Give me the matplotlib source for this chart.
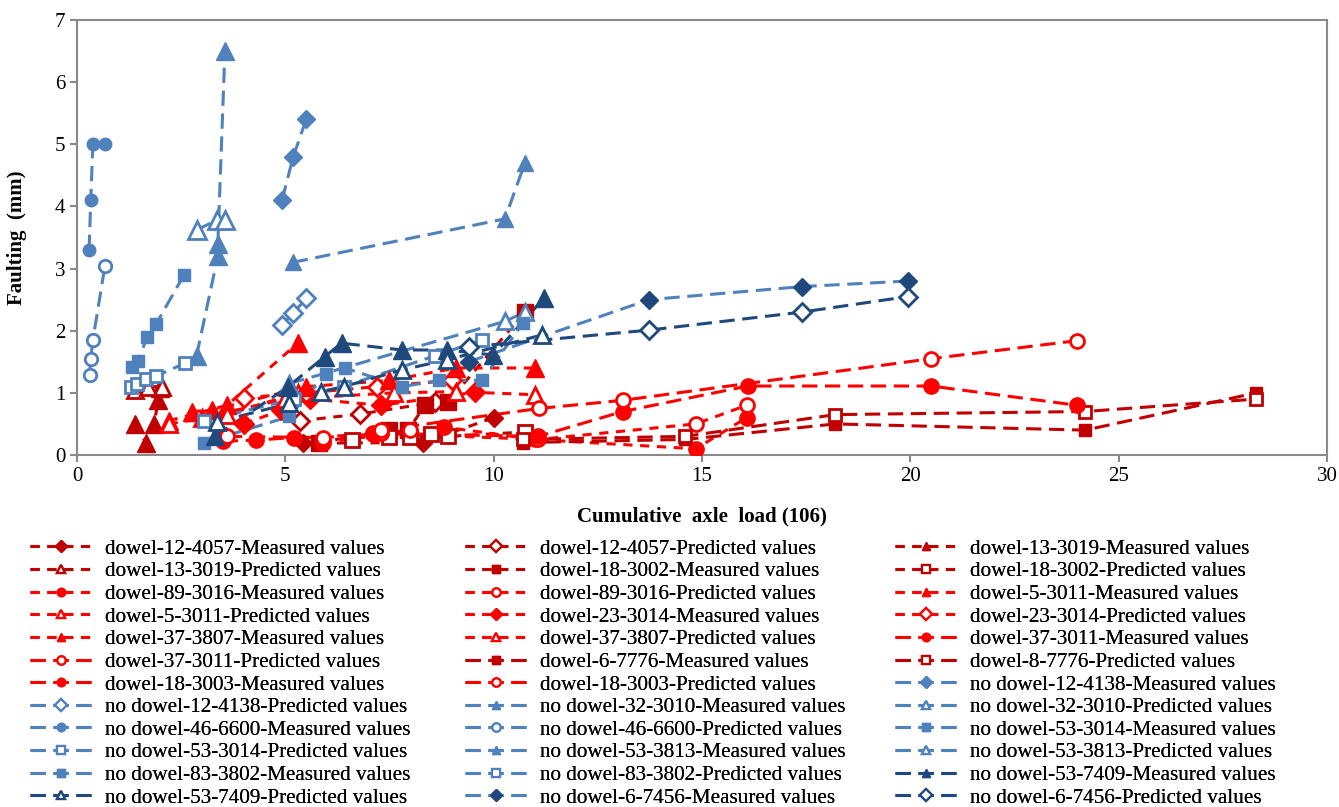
import matplotlib
matplotlib.use("Agg")
import matplotlib.pyplot as plt
from matplotlib.lines import Line2D

plt.rcParams['font.family'] = ['Liberation Serif', 'DejaVu Serif']

# ---- data ----
d12_4057_m_x = [5.43, 8.3, 10.0]
d12_4057_m_y = [0.19, 0.2, 0.6]
d12_4057_p_x = [5.35, 6.8, 8.6]
d12_4057_p_y = [0.55, 0.66, 0.85]
d13_3019_m_x = [1.4, 1.65, 1.85, 1.95, 1.98]
d13_3019_m_y = [0.5, 0.2, 0.5, 0.88, 1.08]
d13_3019_p_x = [1.4, 1.7, 2.05]
d13_3019_p_y = [1.05, 1.1, 1.1]
d18_3002_m_x = [5.8, 7.5, 7.95, 8.35, 8.9, 10.75]
d18_3002_m_y = [0.2, 0.4, 0.4, 0.8, 0.85, 2.3]
d18_3002_p_x = [6.6, 7.5, 8.0, 8.5, 8.9, 10.75]
d18_3002_p_y = [0.24, 0.29, 0.29, 0.34, 0.3, 0.37]
d89_3016_m_x = [5.9, 8.8, 11.0, 14.85, 16.07]
d89_3016_m_y = [0.2, 0.45, 0.25, 0.1, 0.6]
d89_3016_p_x = [7.3, 11.07, 14.85, 16.07]
d89_3016_p_y = [0.35, 0.25, 0.5, 0.8]
d5_3011_m_x = [2.2, 3.6, 5.3]
d5_3011_m_y = [0.55, 0.8, 1.8]
d5_3011_p_x = [2.2, 3.6, 5.3]
d5_3011_p_y = [0.5, 0.65, 1.0]
d23_3014_m_x = [4.0, 4.9, 5.6, 7.3, 9.55]
d23_3014_m_y = [0.5, 0.72, 0.9, 0.8, 1.01]
d23_3014_p_x = [4.0, 5.5, 7.2, 9.0]
d23_3014_p_y = [0.92, 1.0, 1.1, 1.2]
d37_3807_m_x = [2.76, 3.24, 5.5, 7.5, 9.1, 11.0]
d37_3807_m_y = [0.7, 0.72, 1.1, 1.2, 1.4, 1.4]
d37_3807_p_x = [3.0, 5.0, 7.6, 9.1, 11.0]
d37_3807_p_y = [0.6, 0.9, 1.0, 1.02, 0.97]
d37_3011_m_x = [3.5, 4.3, 5.2, 7.1]
d37_3011_m_y = [0.22, 0.24, 0.28, 0.33]
d37_3011_p_x = [3.6, 5.9, 7.3, 8.0]
d37_3011_p_y = [0.3, 0.28, 0.35, 0.4]
d6_7776_m_x = [10.7, 14.6, 18.2, 24.2, 28.3]
d6_7776_m_y = [0.2, 0.25, 0.5, 0.4, 1.0]
d8_7776_p_x = [10.7, 14.6, 18.2, 24.2, 28.3]
d8_7776_p_y = [0.25, 0.3, 0.65, 0.7, 0.9]
d18_3003_m_x = [7.1, 11.07, 13.1, 16.1, 20.5, 24.0]
d18_3003_m_y = [0.35, 0.3, 0.7, 1.11, 1.11, 0.8]
d18_3003_p_x = [7.3, 11.1, 13.1, 20.5, 24.0]
d18_3003_p_y = [0.4, 0.75, 0.88, 1.55, 1.84]
nd12_4138_m_x = [4.92, 5.19, 5.5]
nd12_4138_m_y = [4.1, 4.8, 5.4]
nd12_4138_p_x = [4.92, 5.19, 5.5]
nd12_4138_p_y = [2.1, 2.28, 2.52]
nd32_3010_m_x = [5.18, 10.27, 10.75]
nd32_3010_m_y = [3.1, 3.8, 4.7]
nd32_3010_p_x = [5.1, 10.27, 10.75]
nd32_3010_p_y = [1.15, 2.15, 2.3]
nd46_6600_m_x = [0.29, 0.33, 0.38, 0.67]
nd46_6600_m_y = [3.3, 4.1, 5.0, 5.0]
nd46_6600_p_x = [0.3, 0.33, 0.38, 0.67]
nd46_6600_p_y = [1.29, 1.55, 1.85, 3.04]
nd53_3014_m_x = [3.05, 5.1, 5.98, 6.43, 7.8, 8.7, 9.72, 10.7]
nd53_3014_m_y = [0.2, 0.62, 1.31, 1.4, 1.1, 1.2, 1.2, 2.12]
nd53_3014_p_x = [3.05, 5.2, 6.4, 8.6, 9.72]
nd53_3014_p_y = [0.55, 0.9, 1.1, 1.6, 1.85]
nd53_3813_m_x = [2.87, 3.38, 3.38, 3.55]
nd53_3813_m_y = [1.6, 3.2, 3.4, 6.5]
nd53_3813_p_x = [2.87, 3.35, 3.55]
nd53_3813_p_y = [3.62, 3.78, 3.78]
nd83_3802_m_x = [1.31, 1.47, 1.68, 1.9, 2.57]
nd83_3802_m_y = [1.42, 1.51, 1.9, 2.11, 2.9]
nd83_3802_p_x = [1.3, 1.45, 1.65, 1.9, 2.6]
nd83_3802_p_y = [1.1, 1.15, 1.22, 1.27, 1.48]
nd53_7409_m_x = [3.31, 5.07, 5.94, 6.35, 7.8, 8.87, 9.99, 11.2]
nd53_7409_m_y = [0.3, 1.1, 1.58, 1.8, 1.69, 1.69, 1.61, 2.52]
nd53_7409_p_x = [3.35, 5.1, 5.86, 6.4, 7.8, 8.87, 11.15]
nd53_7409_p_y = [0.53, 0.83, 1.02, 1.1, 1.37, 1.53, 1.93]
nd6_7456_m_x = [9.4, 13.73, 17.4, 19.95]
nd6_7456_m_y = [1.5, 2.5, 2.71, 2.8]
nd6_7456_p_x = [9.4, 13.73, 17.4, 19.95]
nd6_7456_p_y = [1.74, 2.01, 2.3, 2.55]

xticks = [0, 5, 10, 15, 20, 25, 30]
yticks = [0, 1, 2, 3, 4, 5, 6, 7]

# ---- styles ----
DR = '#C00000'
RD = '#FF0000'
LB = '#4F81BD'
DB = '#1F497D'
SHORT = (0, (3, 2.5))
LONG = (0, (5, 2.5))

# label, x, y, line colour, marker colour, marker, filled, dash, marker size
series = [
    ("dowel-12-4057-Measured values", d12_4057_m_x, d12_4057_m_y, DR, DR, 'D', True, SHORT, 9),
    ("dowel-12-4057-Predicted values", d12_4057_p_x, d12_4057_p_y, DR, DR, 'D', False, SHORT, 9),
    ("dowel-13-3019-Measured values", d13_3019_m_x, d13_3019_m_y, DR, DR, '^', True, SHORT, 13),
    ("dowel-13-3019-Predicted values", d13_3019_p_x, d13_3019_p_y, DR, DR, '^', False, SHORT, 12),
    ("dowel-18-3002-Measured values", d18_3002_m_x, d18_3002_m_y, DR, DR, 's', True, SHORT, 11),
    ("dowel-18-3002-Predicted values", d18_3002_p_x, d18_3002_p_y, DR, DR, 's', False, SHORT, 10),
    ("dowel-89-3016-Measured values", d89_3016_m_x, d89_3016_m_y, RD, RD, 'o', True, SHORT, 11),
    ("dowel-89-3016-Predicted values", d89_3016_p_x, d89_3016_p_y, RD, RD, 'o', False, SHORT, 10),
    ("dowel-5-3011-Measured values", d5_3011_m_x, d5_3011_m_y, RD, RD, '^', True, SHORT, 13),
    ("dowel-5-3011-Predicted values", d5_3011_p_x, d5_3011_p_y, RD, RD, '^', False, SHORT, 12),
    ("dowel-23-3014-Measured values", d23_3014_m_x, d23_3014_m_y, RD, RD, 'D', True, SHORT, 10),
    ("dowel-23-3014-Predicted values", d23_3014_p_x, d23_3014_p_y, RD, RD, 'D', False, SHORT, 9),
    ("dowel-37-3807-Measured values", d37_3807_m_x, d37_3807_m_y, RD, RD, '^', True, SHORT, 13),
    ("dowel-37-3807-Predicted values", d37_3807_p_x, d37_3807_p_y, RD, RD, '^', False, SHORT, 12),
    ("dowel-37-3011-Measured values", d37_3011_m_x, d37_3011_m_y, RD, RD, 'o', True, LONG, 11),
    ("dowel-37-3011-Predicted values", d37_3011_p_x, d37_3011_p_y, RD, RD, 'o', False, LONG, 10),
    ("dowel-6-7776-Measured values", d6_7776_m_x, d6_7776_m_y, DR, DR, 's', True, LONG, 8),
    ("dowel-8-7776-Predicted values", d8_7776_p_x, d8_7776_p_y, DR, DR, 's', False, LONG, 8),
    ("dowel-18-3003-Measured values", d18_3003_m_x, d18_3003_m_y, RD, RD, 'o', True, LONG, 11),
    ("dowel-18-3003-Predicted values", d18_3003_p_x, d18_3003_p_y, RD, RD, 'o', False, LONG, 10),
    ("no dowel-12-4138-Measured values", nd12_4138_m_x, nd12_4138_m_y, LB, LB, 'D', True, LONG, 9),
    ("no dowel-12-4138-Predicted values", nd12_4138_p_x, nd12_4138_p_y, LB, LB, 'D', False, LONG, 9),
    ("no dowel-32-3010-Measured values", nd32_3010_m_x, nd32_3010_m_y, LB, LB, '^', True, LONG, 12),
    ("no dowel-32-3010-Predicted values", nd32_3010_p_x, nd32_3010_p_y, LB, LB, '^', False, LONG, 12),
    ("no dowel-46-6600-Measured values", nd46_6600_m_x, nd46_6600_m_y, LB, LB, 'o', True, LONG, 9),
    ("no dowel-46-6600-Predicted values", nd46_6600_p_x, nd46_6600_p_y, LB, LB, 'o', False, LONG, 9),
    ("no dowel-53-3014-Measured values", nd53_3014_m_x, nd53_3014_m_y, LB, LB, 's', True, LONG, 8),
    ("no dowel-53-3014-Predicted values", nd53_3014_p_x, nd53_3014_p_y, LB, LB, 's', False, LONG, 8),
    ("no dowel-53-3813-Measured values", nd53_3813_m_x, nd53_3813_m_y, LB, LB, '^', True, LONG, 13),
    ("no dowel-53-3813-Predicted values", nd53_3813_p_x, nd53_3813_p_y, LB, LB, '^', False, LONG, 13),
    ("no dowel-83-3802-Measured values", nd83_3802_m_x, nd83_3802_m_y, LB, LB, 's', True, LONG, 9),
    ("no dowel-83-3802-Predicted values", nd83_3802_p_x, nd83_3802_p_y, LB, LB, 's', False, LONG, 9),
    ("no dowel-53-7409-Measured values", nd53_7409_m_x, nd53_7409_m_y, DB, DB, '^', True, LONG, 13),
    ("no dowel-53-7409-Predicted values", nd53_7409_p_x, nd53_7409_p_y, DB, DB, '^', False, LONG, 12),
    ("no dowel-6-7456-Measured values", nd6_7456_m_x, nd6_7456_m_y, LB, DB, 'D', True, LONG, 9),
    ("no dowel-6-7456-Predicted values", nd6_7456_p_x, nd6_7456_p_y, DB, DB, 'D', False, LONG, 9),
]

fig = plt.figure(figsize=(13.39, 8.07), dpi=100)
ax = fig.add_axes([77 / 1339, 1 - 455 / 807, 1250 / 1339, 435 / 807])

handles = []
for lab, xs, ys, lc, mc, mk, filled, ls, ms in series:
    ax.plot(xs, ys, color=lc, linestyle=ls, linewidth=2.2, zorder=2)
    ax.plot(xs, ys, linestyle='none', marker=mk, markersize=ms,
            markerfacecolor=mc if filled else 'white', markeredgecolor=mc,
            markeredgewidth=2 if not filled else 1, zorder=3)
    handles.append(Line2D([], [], color=lc, linestyle=ls, linewidth=2.2, marker=mk,
                          markersize=6, markerfacecolor=mc if filled else 'white',
                          markeredgecolor=mc, markeredgewidth=1.6 if not filled else 1,
                          label=lab))

ax.set_xlim(0, 30)
ax.set_ylim(0, 7)
ax.set_xticks(xticks)
ax.set_yticks(yticks)
for sp in ax.spines.values():
    sp.set_color('#898989')
    sp.set_linewidth(1.5)
ax.tick_params(colors='#898989', labelcolor='black', labelsize=15, width=1.5,
               length=5, direction='out')

ax.set_xlabel("Cumulative  axle  load (106)", fontsize=15, fontweight='bold', labelpad=15)
ax.set_ylabel("Faulting  (mm)", fontsize=15, fontweight='bold', labelpad=20)

# legend: three columns, filled row by row
col_x = [30 / 1339, 465 / 1339, 895 / 1339]
for c in range(3):
    hs = [handles[i] for i in range(c, 36, 3)]
    lg = fig.legend(handles=hs, loc='upper left', bbox_to_anchor=(col_x[c], 1 - 539 / 807),
                    frameon=False, fontsize=15.2, handlelength=2.9, handletextpad=0.65,
                    labelspacing=0.135, borderpad=0, borderaxespad=0)
    fig.add_artist(lg)

fig.savefig("out.png", dpi=100)
